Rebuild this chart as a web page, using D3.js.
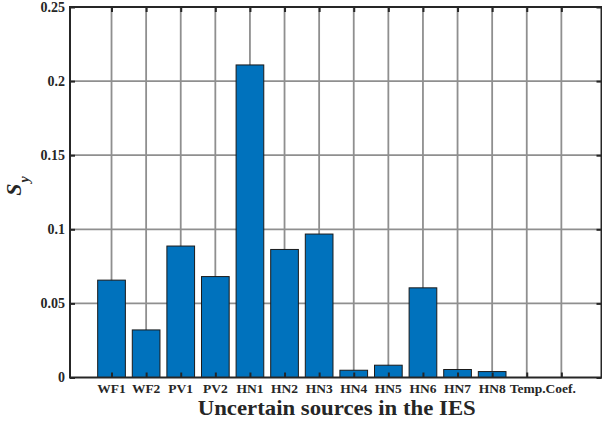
<!DOCTYPE html>
<html>
<head>
<meta charset="utf-8">
<script src="https://cdn.jsdelivr.net/npm/d3@7"></script>
<style>
  html, body { margin: 0; padding: 0; background: #fff; }
  svg { display: block; }
  text { font-family: "Liberation Serif", "Times New Roman", serif; font-weight: bold; fill: #262626; }
</style>
</head>
<body>
<svg id="chart" width="602" height="421"></svg>
<script>
const categories = ["WF1", "WF2", "PV1", "PV2", "HN1", "HN2", "HN3", "HN4", "HN5", "HN6", "HN7", "HN8", "Temp.Coef."];
const values = [0.0657, 0.0321, 0.0887, 0.0681, 0.2109, 0.0864, 0.0968, 0.0049, 0.0083, 0.0605, 0.0054, 0.0040, 0];
const yTicks = [0, 0.05, 0.1, 0.15, 0.2, 0.25];
const yTickLabels = ["0", "0.05", "0.1", "0.15", "0.2", "0.25"];
const xGridIndex = [0, 1, 2, 3, 4, 5, 6, 7, 8, 9, 10, 11, 12, 13];
const xTitle = "Uncertain sources in the IES";

const L = 70, R = 601.5, T = 7, B = 377.5;
const svg = d3.select("#chart");

const x = d3.scaleLinear().domain([-1.2, 14.16]).range([L, R]);
const y = d3.scaleLinear().domain([0, 0.25]).range([B, T]);
const step = x(1) - x(0);
const bw = step * 0.8;

// grid
const grid = svg.append("g");
grid.selectAll("line.vx").data(xGridIndex).enter().append("line")
  .attr("x1", d => x(d)).attr("x2", d => x(d)).attr("y1", T).attr("y2", B)
  .attr("stroke", "#8f8f8f").attr("stroke-width", 1.8);
grid.selectAll("line.hy").data(yTicks.slice(1, -1)).enter().append("line")
  .attr("x1", L).attr("x2", R).attr("y1", d => y(d)).attr("y2", d => y(d))
  .attr("stroke", "#8f8f8f").attr("stroke-width", 1.8);

// bars
svg.append("g").selectAll("rect").data(values).enter().append("rect")
  .attr("x", (d, i) => x(i) - bw / 2)
  .attr("width", bw)
  .attr("y", d => y(d))
  .attr("height", d => y(0) - y(d))
  .attr("fill", "#0072BD")
  .attr("stroke", "#1a1a1a")
  .attr("stroke-width", 1);

// ticks (inward) via axes
const tickLen = 5;
const axB = d3.axisBottom(x).tickValues(xGridIndex).tickSize(-tickLen).tickFormat("");
const axT = d3.axisTop(x).tickValues(xGridIndex).tickSize(-tickLen).tickFormat("");
const axLeft = d3.axisLeft(y).tickValues(yTicks).tickSize(-tickLen).tickFormat((d, i) => yTickLabels[i]).tickPadding(5);
const axRight = d3.axisRight(y).tickValues(yTicks).tickSize(-tickLen).tickFormat("");

function styleAxis(g) {
  g.attr("font-family", null).attr("font-size", null);
  g.select(".domain").remove();
  g.selectAll(".tick line").attr("stroke", "#262626").attr("stroke-width", 2);
}
svg.append("g").attr("transform", `translate(0,${B})`).call(axB).call(styleAxis);
svg.append("g").attr("transform", `translate(0,${T})`).call(axT).call(styleAxis);
const gl = svg.append("g").attr("transform", `translate(${L},0)`).call(axLeft).call(styleAxis);
gl.selectAll(".tick text").style("font-size", "14px").style("font-family", "'Liberation Serif', serif").style("font-weight", "bold").attr("fill", "#262626");
svg.append("g").attr("transform", `translate(${R},0)`).call(axRight).call(styleAxis);

// frame
svg.append("rect").attr("x", L).attr("y", T).attr("width", R - L).attr("height", B - T)
  .attr("fill", "none").attr("stroke", "#262626").attr("stroke-width", 2);

// x tick labels
svg.append("g").selectAll("text").data(categories).enter().append("text")
  .attr("x", (d, i) => i === 12 ? x(i) + 16 : x(i))
  .attr("y", 393)
  .attr("text-anchor", "middle")
  .style("font-size", "13.5px")
  .text(d => d);

// x title
svg.append("text").attr("x", (L + R) / 2 + 1).attr("y", 415)
  .attr("text-anchor", "middle").style("font-size", "21px")
  .attr("textLength", 278).attr("lengthAdjust", "spacingAndGlyphs").text(xTitle);

// y title S_y
const yl = svg.append("text").attr("transform", "translate(21,186) rotate(-90)")
  .attr("text-anchor", "middle").style("font-size", "22px");
yl.append("tspan").style("font-style", "italic").text("S");
yl.append("tspan").style("font-style", "italic").style("font-size", "14px").attr("dy", 8).attr("dx", 1).text("y");
</script>
</body>
</html>
